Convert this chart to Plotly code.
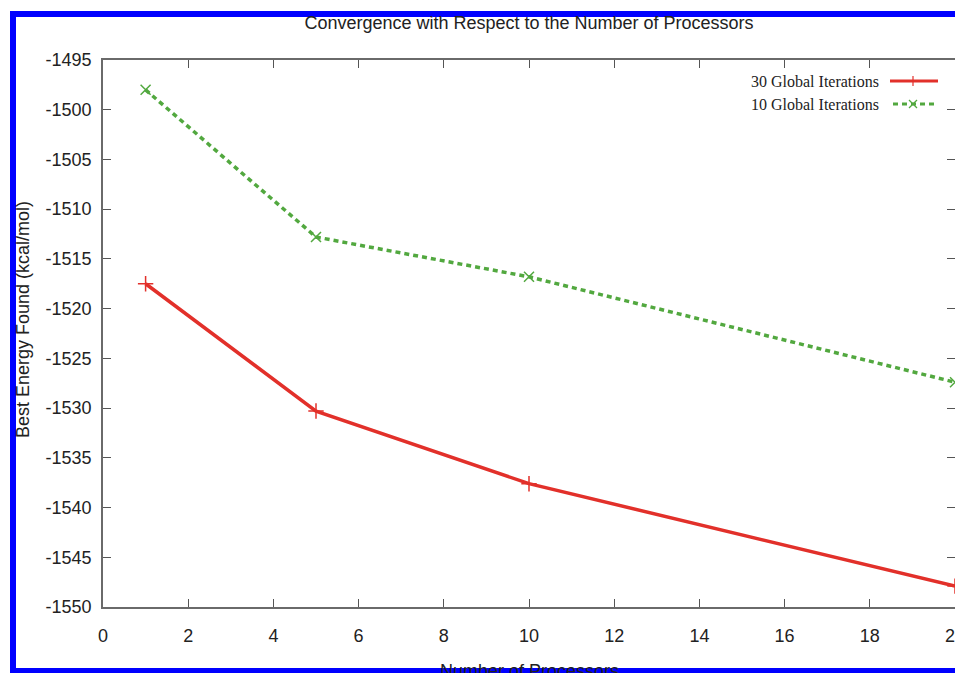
import plotly.graph_objects as go

# ---- data ----
processors = [1, 5, 10, 20]
energy_30 = [-1517.5, -1530.3, -1537.6, -1547.9]
energy_10 = [-1498.0, -1512.8, -1516.8, -1527.4]
series_names = ["30 Global Iterations", "10 Global Iterations"]
x_ticks = [0, 2, 4, 6, 8, 10, 12, 14, 16, 18, 20]
y_ticks = [-1550, -1545, -1540, -1535, -1530, -1525, -1520, -1515, -1510, -1505, -1500, -1495]

W, H = 955, 673
L, R, T, B = 103, 0, 60, 66
PW, PH = W - L - R, H - T - B

def px(x):
    return (x - L) / PW

def py(y):
    return (H - B - y) / PH

RED = "#e2302a"
GREEN = "#52a83f"
SANS = "Liberation Sans, Arial, sans-serif"
SERIF = "Liberation Serif, Times New Roman, serif"

fig = go.Figure()
fig.add_trace(go.Scatter(
    x=processors, y=energy_30, mode="lines+markers", name=series_names[0],
    line=dict(color=RED, width=3.5),
    marker=dict(symbol="cross-thin", size=11, line=dict(color=RED, width=1.5)),
    showlegend=False,
))
fig.add_trace(go.Scatter(
    x=processors, y=energy_10, mode="lines+markers", name=series_names[1],
    line=dict(color=GREEN, width=3.5, dash="5px,4px"),
    marker=dict(symbol="x-thin", size=10, line=dict(color=GREEN, width=1.5)),
    showlegend=False,
))

axis_common = dict(
    showline=True, linecolor="#6a6a6a", linewidth=1.5, mirror="ticks",
    ticks="inside", ticklen=8, tickwidth=1.2, tickcolor="#555555",
    showgrid=False, zeroline=False,
    tickfont=dict(family=SANS, size=18, color="#222222"),
    automargin=False, ticklabeloverflow="allow",
)
fig.update_xaxes(range=[0, 20], tickvals=x_ticks, ticktext=[str(v) for v in x_ticks],
                 ticklabelstandoff=12, **axis_common)
fig.update_yaxes(range=[-1550, -1495], tickvals=y_ticks, ticktext=[str(v) for v in y_ticks],
                 ticklabelstandoff=6, **axis_common)

annotations = [
    dict(text="Best Energy Found (kcal/mol)", textangle=-90, xref="paper", yref="paper",
         x=px(23), y=py(320), xanchor="center", yanchor="middle", showarrow=False,
         font=dict(family=SANS, size=18, color="#222222")),
    dict(text="Number of Processors", xref="paper", yref="paper",
         x=px(529), y=py(671), xanchor="center", yanchor="middle", showarrow=False,
         font=dict(family=SANS, size=18, color="#222222")),
    dict(text=series_names[0], xref="paper", yref="paper", x=px(881), y=py(81),
         xanchor="right", yanchor="middle", showarrow=False,
         font=dict(family=SERIF, size=16, color="#222222")),
    dict(text=series_names[1], xref="paper", yref="paper", x=px(881), y=py(104),
         xanchor="right", yanchor="middle", showarrow=False,
         font=dict(family=SERIF, size=16, color="#222222")),
]

shapes = [
    # legend samples
    dict(type="line", xref="paper", yref="paper", x0=px(890), x1=px(938), y0=py(81), y1=py(81),
         line=dict(color=RED, width=3)),
    dict(type="line", xref="paper", yref="paper", x0=px(913), x1=px(913), y0=py(76), y1=py(86),
         line=dict(color=RED, width=1.2)),
    dict(type="line", xref="paper", yref="paper", x0=px(893), x1=px(938), y0=py(104), y1=py(104),
         line=dict(color=GREEN, width=3, dash="5px,4px")),
    dict(type="line", xref="paper", yref="paper", x0=px(909), x1=px(917), y0=py(100), y1=py(108),
         line=dict(color=GREEN, width=1.3)),
    dict(type="line", xref="paper", yref="paper", x0=px(909), x1=px(917), y0=py(108), y1=py(100),
         line=dict(color=GREEN, width=1.3)),
    # blue frame
    dict(type="rect", xref="paper", yref="paper", x0=px(10), x1=px(960), y0=py(11), y1=py(17),
         fillcolor="#0000ff", line=dict(width=0), layer="above"),
    dict(type="rect", xref="paper", yref="paper", x0=px(10), x1=px(16), y0=py(11), y1=py(680),
         fillcolor="#0000ff", line=dict(width=0), layer="above"),
    dict(type="rect", xref="paper", yref="paper", x0=px(10), x1=px(960), y0=py(668), y1=py(680),
         fillcolor="#0000ff", line=dict(width=0), layer="above"),
]

fig.update_layout(
    width=W, height=H,
    margin=dict(l=L, r=R, t=T, b=B, pad=0),
    paper_bgcolor="white", plot_bgcolor="white",
    title=dict(text="Convergence with Respect to the Number of Processors",
               xref="paper", x=0.5, xanchor="center",
               yref="container", y=1 - 23 / H, yanchor="middle",
               font=dict(family=SANS, size=18, color="#222222")),
    annotations=annotations,
    shapes=shapes,
    showlegend=False,
)

fig.write_html("out.html")
